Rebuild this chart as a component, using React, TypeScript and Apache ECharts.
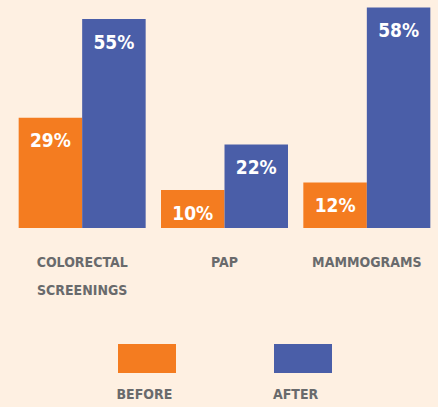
import React, { useEffect, useRef } from 'react';
import * as echarts from 'echarts';

const categories = ['COLORECTAL\nSCREENINGS', 'PAP', 'MAMMOGRAMS'];
const beforeValues = [29, 10, 12];
const afterValues = [55, 22, 58];
const seriesNames = ['BEFORE', 'AFTER'];

const BG = '#FEF0E2';
const ORANGE = '#F47C20';
const BLUE = '#4A5EA8';
const GREY = '#696A6C';
const NARROW = '"DejaVu Sans Condensed", "Liberation Sans Narrow", sans-serif';

export default function App() {
  const ref = useRef<HTMLDivElement>(null);
  useEffect(() => {
    const chart = echarts.init(ref.current!, null, { renderer: 'svg' });
    const labelStyle = {
      show: true,
      position: 'insideTop' as const,
      distance: 13,
      color: '#FFFFFF',
      fontFamily: NARROW,
      fontWeight: 'bold' as const,
      fontSize: 19,
      formatter: (p: any) => p.value + '%',
    };
    chart.setOption({
      animation: false,
      backgroundColor: BG,
      grid: { left: 11, right: 0, top: 0, bottom: 179, containLabel: false },
      xAxis: {
        type: 'category',
        data: categories,
        axisLine: { show: false },
        axisTick: { show: false },
        axisLabel: {
          interval: 0,
          color: GREY,
          fontFamily: NARROW,
          fontWeight: 'bold',
          fontSize: 14,
          lineHeight: 28,
          margin: 20,
          align: 'center',
        },
      },
      yAxis: {
        type: 'value',
        min: 0,
        max: 60,
        show: false,
        splitLine: { show: false },
      },
      legend: {
        data: seriesNames,
        left: 118,
        top: 344,
        padding: 0,
        itemWidth: 58,
        itemHeight: 29,
        itemGap: 98,
        icon: 'rect',
        formatter: () => '',
        selectedMode: false,
      },
      graphic: [
        {
          type: 'text',
          left: 146.5 - 30,
          top: 387,
          style: {
            text: seriesNames[0],
            fill: GREY,
            font: `bold 14px ${NARROW}`,
            width: 60,
            align: 'center',
          },
        },
        {
          type: 'text',
          left: 303 - 30,
          top: 387,
          style: {
            text: seriesNames[1],
            fill: GREY,
            font: `bold 14px ${NARROW}`,
            width: 60,
            align: 'center',
          },
        },
      ],
      series: [
        {
          name: seriesNames[0],
          type: 'bar',
          data: beforeValues,
          barWidth: 63.5,
          barGap: '0%',
          itemStyle: { color: ORANGE },
          label: labelStyle,
        },
        {
          name: seriesNames[1],
          type: 'bar',
          data: afterValues,
          barWidth: 63.5,
          barGap: '0%',
          itemStyle: { color: BLUE },
          label: labelStyle,
        },
      ],
    });
    return () => chart.dispose();
  }, []);
  return (
    <div
      ref={ref}
      style={{ position: 'fixed', left: 0, top: 0, width: 438, height: 407 }}
    />
  );
}
